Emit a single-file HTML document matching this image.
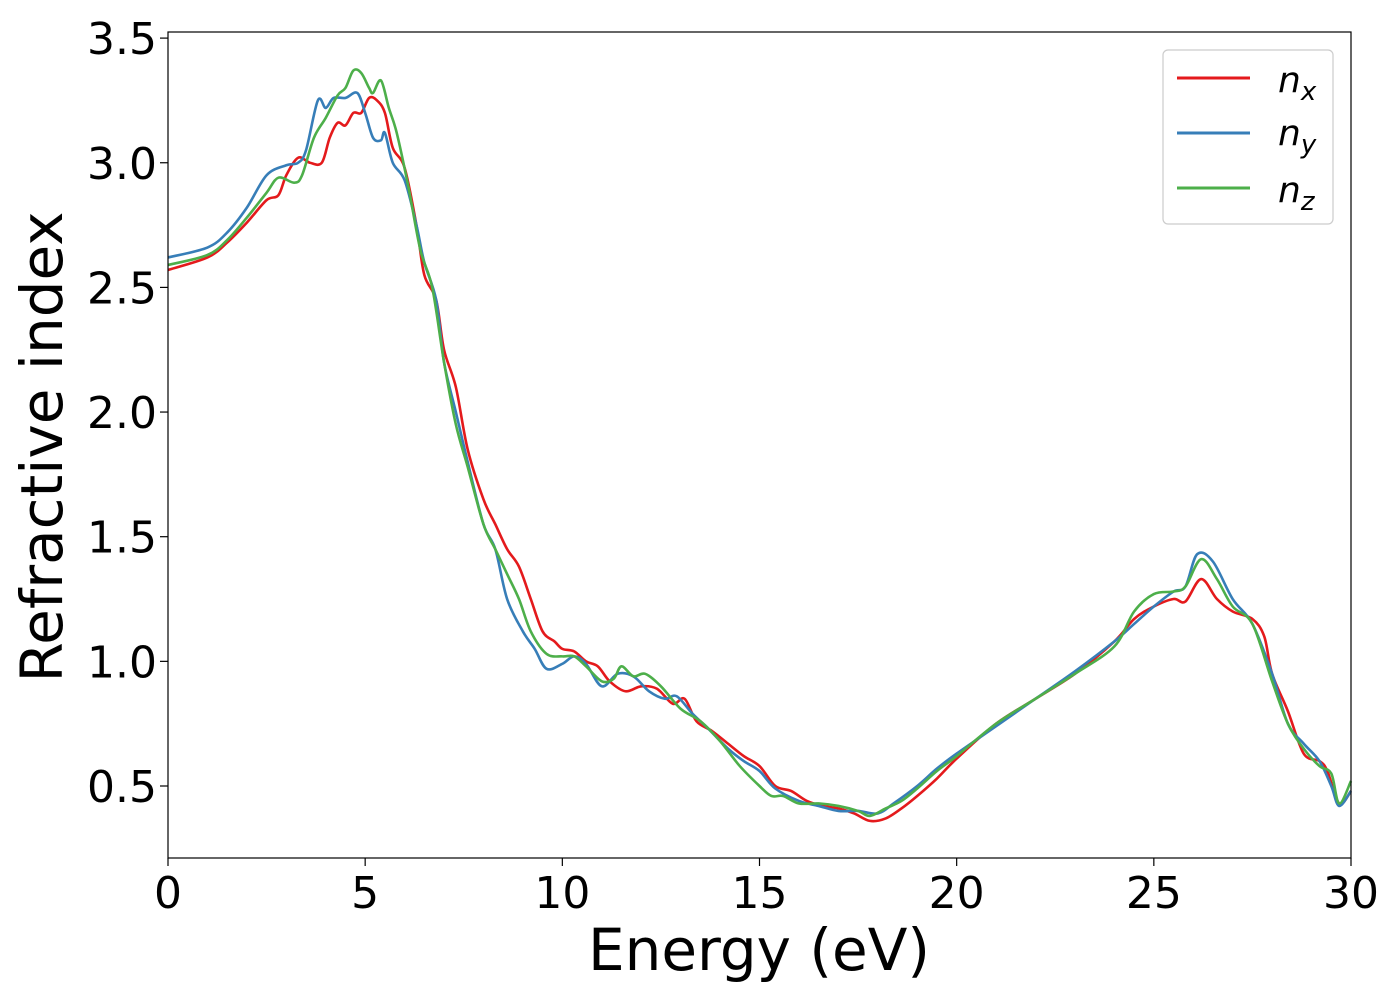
<!DOCTYPE html>
<html><head><meta charset="utf-8"><style>
body{margin:0;background:#fff;}
svg text{font-family:"DejaVu Sans","Liberation Sans",sans-serif;fill:#000;}
</style></head><body>
<svg id="chart" width="1400" height="1000" xmlns="http://www.w3.org/2000/svg">
<rect x="0" y="0" width="1400" height="1000" fill="#fff"/>
<g id="lines"></g>
<rect x="168" y="32" width="1183" height="826" fill="none" stroke="#000" stroke-width="1.2"/>
<g id="xticks"></g><g id="yticks"></g>
<text x="759" y="970" font-size="58" text-anchor="middle">Energy (eV)</text>
<text transform="translate(62,447) rotate(-90)" font-size="58" text-anchor="middle">Refractive index</text>
<g>
<rect x="1163" y="50" width="170" height="174" rx="5" fill="#fff" stroke="#ccc" stroke-width="1.2"/>
<line x1="1177" y1="78" x2="1250" y2="78" stroke="#e41a1c" stroke-width="3"/>
<text x="1278" y="92" font-size="36" font-style="italic">n<tspan font-size="26" dy="8">x</tspan></text>
<line x1="1177" y1="133" x2="1250" y2="133" stroke="#377eb8" stroke-width="3"/>
<text x="1278" y="145" font-size="36" font-style="italic">n<tspan font-size="26" dy="8">y</tspan></text>
<line x1="1177" y1="188" x2="1250" y2="188" stroke="#4daf4a" stroke-width="3"/>
<text x="1278" y="202" font-size="36" font-style="italic">n<tspan font-size="26" dy="8">z</tspan></text>
</g>
</svg>
<script>
const xTicks=[0,5,10,15,20,25,30];
const yTicks=[0.5,1.0,1.5,2.0,2.5,3.0,3.5];
const nxE=[0,1,1.5,2,2.5,2.8,3,3.3,3.6,3.9,4.1,4.3,4.5,4.7,4.9,5.1,5.3,5.5,5.7,6,6.3,6.5,6.8,7,7.3,7.6,8,8.3,8.6,8.9,9.2,9.5,9.8,10,10.3,10.6,10.9,11.2,11.6,12,12.4,12.8,13.1,13.4,13.8,14.2,14.6,15,15.4,15.8,16.2,16.6,17,17.4,17.8,18.2,18.6,19,19.5,20,21,22,23,24,24.5,25,25.5,25.8,26.2,26.6,27,27.5,27.8,28,28.4,28.8,29.2,29.4,29.7,30];
const nxV=[2.57,2.62,2.68,2.76,2.85,2.87,2.95,3.02,3.0,3.0,3.1,3.16,3.15,3.2,3.2,3.26,3.25,3.2,3.06,2.98,2.75,2.55,2.45,2.25,2.1,1.85,1.65,1.55,1.45,1.38,1.25,1.12,1.08,1.05,1.04,1.0,0.98,0.92,0.88,0.9,0.89,0.83,0.85,0.76,0.72,0.67,0.62,0.58,0.5,0.48,0.44,0.42,0.41,0.39,0.36,0.37,0.41,0.46,0.53,0.61,0.75,0.85,0.95,1.08,1.17,1.22,1.25,1.24,1.33,1.25,1.2,1.17,1.1,0.95,0.8,0.63,0.6,0.56,0.43,0.48];
const nyE=[0,1,1.5,2,2.5,3,3.3,3.5,3.8,4.0,4.2,4.5,4.8,5,5.2,5.4,5.5,5.7,6,6.3,6.5,6.8,7,7.3,7.6,8,8.3,8.6,9,9.3,9.6,10,10.3,10.6,11,11.4,11.8,12.2,12.6,12.9,13.3,13.7,14.2,14.6,15,15.4,16,16.5,17,17.5,18,18.4,19,19.5,20,21,22,23,24,24.5,25,25.5,25.8,26.1,26.5,27,27.5,28,28.4,28.8,29.2,29.5,29.7,30];
const nyV=[2.62,2.66,2.72,2.82,2.95,2.99,3.0,3.05,3.25,3.22,3.26,3.26,3.28,3.2,3.1,3.09,3.12,3.0,2.93,2.75,2.6,2.45,2.2,2.0,1.8,1.55,1.45,1.25,1.12,1.05,0.97,0.99,1.02,0.99,0.9,0.95,0.94,0.88,0.85,0.86,0.79,0.73,0.65,0.6,0.56,0.49,0.44,0.42,0.4,0.4,0.39,0.43,0.5,0.57,0.63,0.74,0.85,0.96,1.08,1.15,1.22,1.28,1.3,1.43,1.4,1.25,1.15,0.95,0.75,0.67,0.6,0.5,0.42,0.48];
const nzE=[0,1,1.5,2,2.5,2.8,3.2,3.4,3.7,4,4.3,4.5,4.7,4.9,5.1,5.2,5.4,5.6,5.8,6.1,6.4,6.7,7,7.3,7.6,8,8.3,8.6,8.9,9.2,9.6,10,10.3,10.6,11,11.3,11.5,11.8,12.1,12.5,13,13.5,14,14.5,15,15.3,15.6,16,16.5,17,17.5,17.8,18.2,18.6,19,19.5,20,21,22,23,24,24.5,25,25.5,25.8,26.2,26.6,27,27.5,28,28.4,28.8,29.2,29.5,29.7,30];
const nzV=[2.59,2.63,2.69,2.78,2.88,2.94,2.92,2.95,3.1,3.18,3.27,3.3,3.37,3.36,3.3,3.28,3.33,3.22,3.12,2.9,2.65,2.5,2.2,1.95,1.78,1.55,1.45,1.35,1.25,1.12,1.03,1.02,1.02,0.98,0.92,0.93,0.98,0.94,0.95,0.9,0.81,0.76,0.68,0.58,0.5,0.46,0.46,0.43,0.43,0.42,0.4,0.38,0.41,0.44,0.49,0.56,0.62,0.75,0.85,0.95,1.06,1.2,1.27,1.28,1.3,1.41,1.33,1.22,1.15,0.92,0.75,0.65,0.58,0.55,0.43,0.52];
const X=v=>168+v*(1351-168)/30;
const Y=v=>786-(v-0.5)*249.3;
const NS="http://www.w3.org/2000/svg";
function path(E,V){
  const p=E.map((e,i)=>[X(e),Y(V[i])]);
  let d="M"+p[0][0]+","+p[0][1];
  for(let i=0;i<p.length-1;i++){
    const p0=p[i-1]||p[i],p1=p[i],p2=p[i+1],p3=p[i+2]||p[i+1];
    d+=" C"+(p1[0]+(p2[0]-p0[0])/6)+","+(p1[1]+(p2[1]-p0[1])/6)+" "+(p2[0]-(p3[0]-p1[0])/6)+","+(p2[1]-(p3[1]-p1[1])/6)+" "+p2[0]+","+p2[1];
  }
  return d;
}
const g=document.getElementById('lines');
[[nxE,nxV,'#e41a1c','line-nx'],[nyE,nyV,'#377eb8','line-ny'],[nzE,nzV,'#4daf4a','line-nz']].forEach(s=>{
  const el=document.createElementNS(NS,'path');
  el.setAttribute('d',path(s[0],s[1]));
  el.setAttribute('fill','none');el.setAttribute('stroke',s[2]);el.setAttribute('stroke-width','2.6');
  
  
  g.appendChild(el);
});
const xt=document.getElementById('xticks');
xTicks.forEach(t=>{
  const l=document.createElementNS(NS,'line');
  l.setAttribute('x1',X(t));l.setAttribute('x2',X(t));l.setAttribute('y1',858);l.setAttribute('y2',866);l.setAttribute('stroke','#000');l.setAttribute('stroke-width','1.2');
  
  
  xt.appendChild(l);
  const tx=document.createElementNS(NS,'text');
  tx.setAttribute('x',X(t));tx.setAttribute('y',908);tx.setAttribute('font-size','44');tx.setAttribute('text-anchor','middle');
  tx.textContent=t;
  
  
  xt.appendChild(tx);
});
const yt=document.getElementById('yticks');
yTicks.forEach(t=>{
  const l=document.createElementNS(NS,'line');
  l.setAttribute('x1',160);l.setAttribute('x2',168);l.setAttribute('y1',Y(t));l.setAttribute('y2',Y(t));l.setAttribute('stroke','#000');l.setAttribute('stroke-width','1.2');
  
  
  yt.appendChild(l);
  const tx=document.createElementNS(NS,'text');
  tx.setAttribute('x',157);tx.setAttribute('y',Y(t)+16);tx.setAttribute('font-size','44');tx.setAttribute('text-anchor','end');
  tx.textContent=t.toFixed(1);
  
  
  yt.appendChild(tx);
});
</script>
</body></html>
